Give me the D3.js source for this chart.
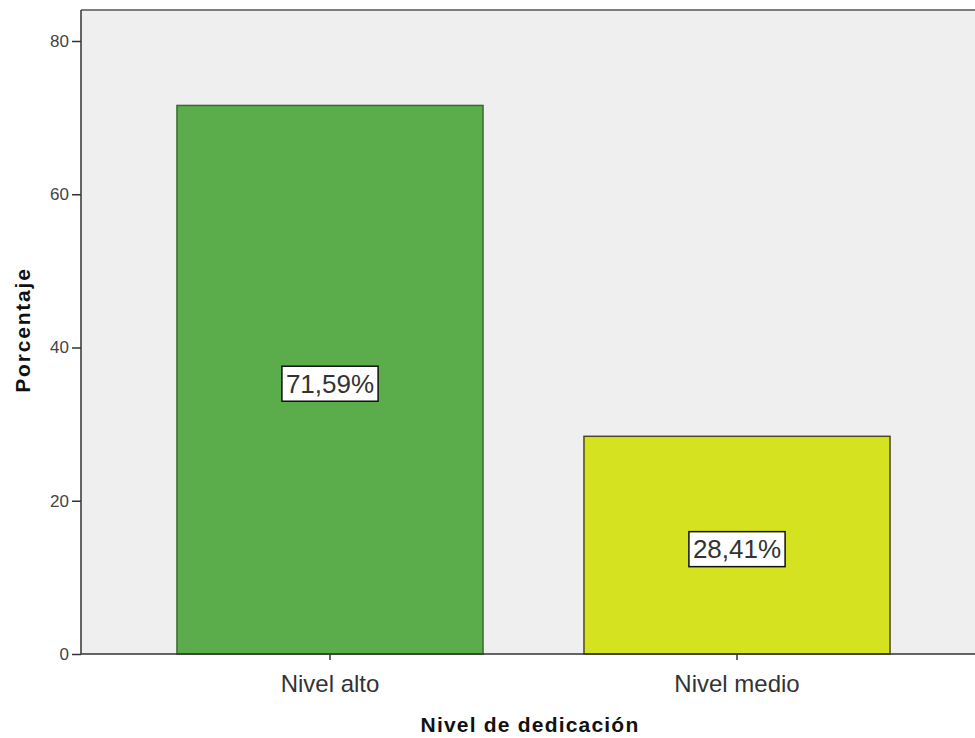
<!DOCTYPE html>
<html><head><meta charset="utf-8">
<script src="https://cdn.jsdelivr.net/npm/d3@7"></script>
<style>body{margin:0;background:#fff}svg{display:block}text{font-family:"Liberation Sans",Arial,sans-serif}</style>
</head><body><svg id="c" width="975" height="738"></svg>
<script>
const categories = ["Nivel alto", "Nivel medio"];
const values = [71.59, 28.41];
const valueLabels = ["71,59%", "28,41%"];
const barColors = ["#5bad4b", "#d5e21f"];
const yTicks = [0, 20, 40, 60, 80];

(function () {
const svg = d3.select("#c");
const pLeft = 81, pTop = 10, pRight = 975, pBottom = 654;
const y = d3.scaleLinear().domain([0, 80]).range([654, 41]);
const x = d3.scaleBand().domain(categories).range([126.5, 940.5]).paddingInner(0.248).paddingOuter(0.124);

svg.append("rect").attr("x", pLeft).attr("y", pTop).attr("width", pRight - pLeft + 5).attr("height", pBottom - pTop).attr("fill", "#efefef");
svg.append("line").attr("x1", pLeft).attr("x2", pRight).attr("y1", pTop).attr("y2", pTop).attr("stroke", "#555").attr("stroke-width", 1.5);

svg.selectAll("rect.bar").data(values).join("rect").attr("class", "bar")
  .attr("x", (d, i) => x(categories[i])).attr("width", x.bandwidth())
  .attr("y", d => y(d)).attr("height", d => y(0) - y(d))
  .attr("fill", (d, i) => barColors[i]).attr("stroke", (d, i) => i === 0 ? "#3b6a32" : "#4a4a20").attr("stroke-width", 1.5);

const yAxis = svg.append("g").attr("transform", `translate(${pLeft},0)`)
  .call(d3.axisLeft(y).tickValues(yTicks).tickSize(9).tickSizeOuter(0).tickPadding(3));
yAxis.select(".domain").attr("d", `M0,${pTop}V${pBottom}`).attr("stroke", "#333").attr("stroke-width", 1.5);
yAxis.selectAll(".tick line").attr("stroke", "#333").attr("stroke-width", 1.5);
yAxis.selectAll(".tick text").attr("font-size", 17).attr("fill", "#444").attr("font-family", '"Liberation Sans",Arial,sans-serif');

const xAxis = svg.append("g").attr("transform", `translate(0,${pBottom})`)
  .call(d3.axisBottom(x).tickSize(6).tickSizeOuter(0).tickPadding(15));
xAxis.select(".domain").attr("d", `M${pLeft},0H${pRight}`).attr("stroke", "#333").attr("stroke-width", 1.5);
xAxis.selectAll(".tick line").attr("stroke", "#333").attr("stroke-width", 1.5);
xAxis.selectAll(".tick text").attr("font-size", 24).attr("fill", "#333").attr("font-family", '"Liberation Sans",Arial,sans-serif');

values.forEach((v, i) => {
  const cx = x(categories[i]) + x.bandwidth() / 2;
  const cy = (y(v) + y(0)) / 2 + 4;
  const g = svg.append("g");
  const t = g.append("text").attr("x", cx).attr("y", cy).attr("text-anchor", "middle").attr("dominant-baseline", "central")
    .attr("font-size", 26).attr("fill", "#333").text(valueLabels[i]);
  const bb = t.node().getBBox();
  g.insert("rect", "text").attr("x", bb.x - 4).attr("y", cy - 17.5).attr("width", bb.width + 8).attr("height", 35)
    .attr("fill", "#fff").attr("stroke", "#111").attr("stroke-width", 1.5);
});

svg.append("text").attr("x", 530).attr("y", 732).attr("text-anchor", "middle").attr("font-size", 21).attr("font-weight", "bold")
  .attr("letter-spacing", 1.2).attr("fill", "#111").text("Nivel de dedicación");
svg.append("text").attr("transform", "translate(30,330) rotate(-90)").attr("text-anchor", "middle").attr("font-size", 21).attr("font-weight", "bold")
  .attr("letter-spacing", 1.8).attr("fill", "#111").text("Porcentaje");
})();
</script></body></html>
